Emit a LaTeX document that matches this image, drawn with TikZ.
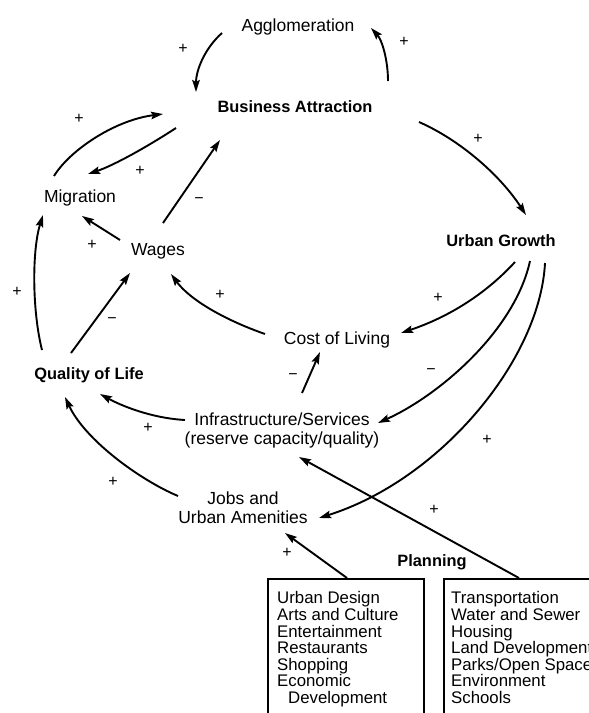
\documentclass[tikz,border=0pt]{standalone}
\usepackage{fontspec}
\setmainfont{Liberation Sans}
\usetikzlibrary{arrows.meta,calc}
\begin{document}
\begin{tikzpicture}[x=1pt,y=-1pt,
  lbl/.style={inner sep=0pt, font=\fontsize{17.5}{19}\selectfont, text height=12pt, text depth=0pt},
  lbltwo/.style={inner sep=0pt, font=\fontsize{17.5}{19}\selectfont, align=center},
  bld/.style={inner sep=0pt, font=\fontsize{16.4}{19}\selectfont\bfseries, text height=12pt, text depth=0pt},
  sgn/.style={inner sep=0pt, font=\fontsize{16}{16}\selectfont},
  boxframe/.style={draw, line width=1.5pt, anchor=north west, inner sep=0pt},
  boxtext/.style={inner sep=0pt, anchor=north west, align=left, font=\fontsize{16.8}{16.6}\selectfont},
  arr/.style={line width=1.9pt, -{Stealth[length=12pt,width=7.5pt,inset=2pt]}}]
\clip (0,0) rectangle (589,713);
\fill[white] (0,0) rectangle (589,713);

% nodes
\node[lbl] (agg) at (298,25) {Agglomeration};
\node[bld] (ba) at (295,106) {Business Attraction};
\node[lbl] (mig) at (80,196) {Migration};
\node[lbl] (wag) at (158,249) {Wages};
\node[bld] (ug) at (501,240) {Urban Growth};
\node[lbl] (col) at (337,338) {Cost of Living};
\node[bld] (qol) at (89,373) {Quality of Life};
\node[lbltwo] (inf) at (282,430) {Infrastructure/Services\\(reserve capacity/quality)};
\node[lbltwo] (job) at (243,508) {Jobs and\\Urban Amenities};
\node[bld] (plan) at (432,560) {Planning};

\node[boxframe, minimum width=156pt, minimum height=160pt] (box1) at (267,578) {};
\node[boxframe, minimum width=200pt, minimum height=160pt] (box2) at (443,578) {};
\node[boxtext] (t1) at (277,591.5) {Urban Design\\Arts and Culture\\Entertainment\\Restaurants\\Shopping\\Economic\\\hspace*{11pt}Development};
\node[boxtext] (t2) at (451,591.5) {Transportation\\Water and Sewer\\Housing\\Land Development\\Parks/Open Space\\Environment\\Schools};

% connectors
\draw[arr] ($(agg)+(-76,8)$) .. controls (205,48) and (196,70) .. ($(ba)+(-99,-14)$);
\draw[arr] ($(ba)+(93,-25)$) .. controls (388,60) and (382,40) .. ($(agg)+(73,3)$);
\draw[arr] ($(mig)+(-26,-20)$) .. controls (70,150) and (115,120) .. ($(ba)+(-132,8)$);
\draw[arr] ($(ba)+(-119,22)$) .. controls (150,145) and (115,165) .. ($(mig)+(8,-22)$);
\draw[arr] ($(wag)+(5,-26)$) -- ($(ba)+(-75,34)$);
\draw[arr] ($(ba)+(124,16)$) .. controls (460,140) and (500,175) .. ($(ug)+(25,-25)$);
\draw[arr] ($(wag)+(-38,-9)$) -- ($(mig)+(2,20)$);
\draw[arr] ($(qol)+(-47,-23)$) .. controls (32,310) and (32,250) .. ($(mig)+(-37,19)$);
\draw[arr] ($(qol)+(-18,-20)$) -- ($(wag)+(-28,24)$);
\draw[arr] ($(col)+(-72,-4)$) .. controls (225,320) and (190,300) .. ($(wag)+(13,25)$);
\draw[arr] ($(ug)+(14,22)$) .. controls (480,300) and (440,320) .. ($(col)+(64,-5)$);
\draw[arr] ($(inf)+(20,-37)$) -- ($(col)+(-17,14)$);
\draw[arr] ($(ug)+(29,21)$) .. controls (515,330) and (440,395) .. ($(inf)+(96,-7)$);
\draw[arr] ($(ug)+(44,23)$) .. controls (540,360) and (440,480) .. ($(job)+(76,10)$);
\draw[arr] ($(inf)+(-97,-10)$) .. controls (150,418) and (120,405) .. ($(qol)+(11,21)$);
\draw[arr] ($(job)+(-65,-12)$) .. controls (140,480) and (85,440) .. ($(qol)+(-24,24)$);
\draw[arr] ($(box2.north west)+(76,0)$) -- ($(inf)+(17,27)$);
\draw[arr] ($(box1.north west)+(80,0)$) -- ($(job)+(42,25)$);

% polarity signs
\node[sgn] (s1) at (183,49) {+};
\node[sgn] (s2) at (404,42) {+};
\node[sgn] (s3) at (79,119) {+};
\node[sgn] (s4) at (140,171) {+};
\node[sgn] (s5) at (199,201) {−};
\node[sgn] (s6) at (478,139) {+};
\node[sgn] (s7) at (92,245) {+};
\node[sgn] (s8) at (17,292) {+};
\node[sgn] (s9) at (112,321) {−};
\node[sgn] (s10) at (220,295) {+};
\node[sgn] (s11) at (438,298) {+};
\node[sgn] (s12) at (293,377) {−};
\node[sgn] (s13) at (431,372) {−};
\node[sgn] (s14) at (487,440) {+};
\node[sgn] (s15) at (148,428) {+};
\node[sgn] (s16) at (113,482) {+};
\node[sgn] (s17) at (434,510) {+};
\node[sgn] (s18) at (287,553) {+};
\end{tikzpicture}
\end{document}
